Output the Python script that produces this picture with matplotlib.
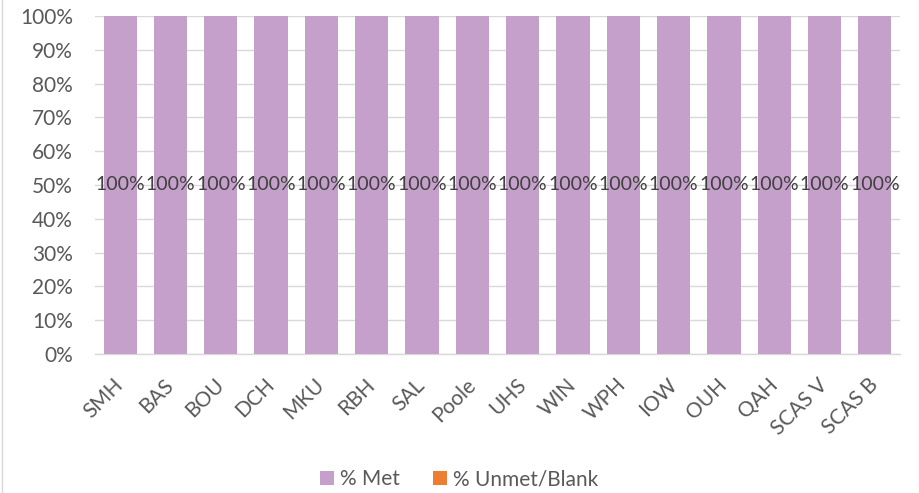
import matplotlib
matplotlib.use("Agg")
import matplotlib.pyplot as plt
from matplotlib.ticker import PercentFormatter, MultipleLocator
from matplotlib.lines import Line2D
import numpy as np

categories = ["SMH", "BAS", "BOU", "DCH", "MKU", "RBH", "SAL", "Poole", "UHS",
              "WIN", "WPH", "IOW", "OUH", "QAH", "SCAS V", "SCAS B"]
met = [100, 100, 100, 100, 100, 100, 100, 100, 100, 100, 100, 100, 100, 100, 100, 100]
unmet = [0, 0, 0, 0, 0, 0, 0, 0, 0, 0, 0, 0, 0, 0, 0, 0]

plt.rcParams['font.family'] = ['Lato', 'DejaVu Sans']
text_color = "#595959"
fs = 15

fig = plt.figure(figsize=(9.19, 4.93), dpi=100)
ax = fig.add_axes([95/919, 1-354/493, 805/919, 338/493])

x = np.arange(len(categories))
b1 = ax.bar(x, met, width=0.66, color="#C5A0CB", label="% Met", zorder=3)
b2 = ax.bar(x, unmet, width=0.66, bottom=met, color="#ED7D31", label="% Unmet/Blank", zorder=3)

for xi, v in zip(x, met):
    ax.text(xi, v/2, f"{v:.0f}%", ha="center", va="center", fontsize=14, color="#404040", zorder=4)

ax.set_xlim(-0.5, len(categories)-0.5)
ax.set_ylim(0, 100)
ax.yaxis.set_major_locator(MultipleLocator(10))
ax.yaxis.set_major_formatter(PercentFormatter(decimals=0))
ax.set_xticks(x)
ax.set_xticklabels(categories, rotation=45, ha="right", va="center", rotation_mode="anchor")
ax.tick_params(axis="both", length=0, labelsize=fs, labelcolor=text_color)
ax.tick_params(axis="x", pad=20)
ax.tick_params(axis="y", pad=16)
ax.grid(axis="y", color="#D9D9D9", linewidth=1, zorder=0)
for s in ["top", "right", "left"]:
    ax.spines[s].set_visible(False)
ax.spines["bottom"].set_color("#D9D9D9")
ax.spines["bottom"].set_linewidth(1)
ax.set_axisbelow(True)

leg = fig.legend(handles=[b1, b2], loc="center", bbox_to_anchor=(0.5, 1-479/493),
                 ncol=2, frameon=False, fontsize=fs, handlelength=0.65, handleheight=0.65,
                 columnspacing=1.6, handletextpad=0.3)
for t in leg.get_texts():
    t.set_color(text_color)

fig.add_artist(Line2D([2/919, 2/919], [0, 1], transform=fig.transFigure, color="#D9D9D9", linewidth=1))

fig.savefig("out.png", dpi=100)
